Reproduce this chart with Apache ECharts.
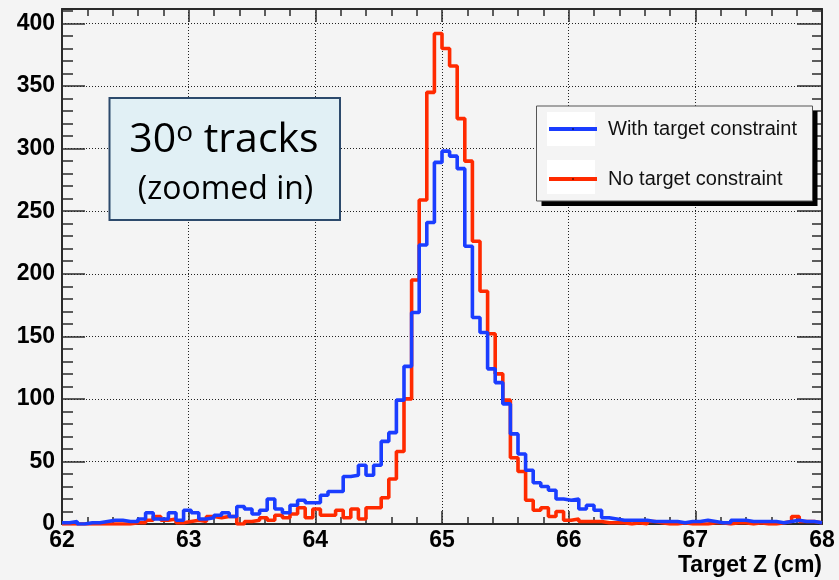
<!DOCTYPE html>
<html><head><meta charset="utf-8">
<script src="https://cdn.jsdelivr.net/npm/echarts@6/dist/echarts.min.js"></script>
<style>html,body{margin:0;padding:0;background:#f4f4f4}#c{width:839px;height:580px}</style>
</head><body><div id="c"></div>
<script>
// Histogram definition: 100 bins from 62 to 68 cm
const X_MIN = 62;
const X_MAX = 68;
const N_BINS = 100;
const Y_MIN = 0;
const Y_MAX = 411.6;
const X_TICK_STEP = 1;
const Y_TICK_STEP = 50;
const X_TITLE = 'Target Z (cm)';
const SERIES_NAMES = ['With target constraint', 'No target constraint'];
const BOX_TITLE = ['30', 'o', ' tracks'];
const BOX_SUBTITLE = '(zoomed in)';

// Bin contents, "With target constraint" (blue)
const WITH_TARGET = [
  1,2,0,1,1, 2,3,3,2,2,
  4,9,4,4,9, 3,11,9,4,5,
  7,9,6,14,12, 8,11,20,12,9,
  15,19,17,17,23, 26,26,38,39,47,
  39,47,66,73,99, 126,169,223,241,289,
  298,294,284,222,165, 153,124,113,96,72,
  56,43,33,30,27, 20,19,20,12,15,
  11,5,4,3,3, 3,3,2,2,2,
  2,1,2,2,3, 2,1,1,3,3,
  2,2,2,2,1, 2,3,2,2,1
];
// Bin contents, "No target constraint" (red)
const NO_TARGET = [
  0,0,0,0,0, 0,0,0,0,1,
  1,3,6,3,4, 1,2,3,2,6,
  5,6,6,0,2, 3,5,3,7,5,
  8,13,5,12,7, 7,11,5,12,4,
  13,13,21,36,58, 100,195,259,345,392,
  380,366,324,290,226, 186,152,120,99,53,
  42,19,11,13,6, 10,3,4,2,2,
  2,1,1,1,0, 1,0,2,1,0,
  0,1,0,0,0, 1,1,0,1,1,
  0,1,0,0,1, 2,6,2,2,1
];

const BIN_WIDTH = (X_MAX - X_MIN) / N_BINS;
function histData(vals) {
  const d = vals.map((v, i) => [X_MIN + i * BIN_WIDTH, v]);
  d.push([X_MAX, vals[vals.length - 1]]);
  return d;
}

const FRAME = '#2a2a2a';
const BLUE = '#1a3dff';
const RED = '#ff2a00';
const GRIDC = '#222';
const LABEL_FONT = { fontFamily: 'Liberation Sans', fontWeight: 'bold', fontSize: 23, color: '#000' };

function xAx(pos, labels) {
  return {
    type: 'value', position: pos, min: X_MIN, max: X_MAX, interval: X_TICK_STEP,
    axisLine: { show: true, onZero: false, lineStyle: { color: FRAME, width: 2 } },
    axisTick: { show: true, inside: true, length: 13, lineStyle: { color: FRAME, width: 1.5 } },
    minorTick: { show: true, splitNumber: 5, length: 7, lineStyle: { color: FRAME, width: 1.5 } },
    axisLabel: labels ? Object.assign({ show: true, margin: 5 }, LABEL_FONT) : { show: false },
    splitLine: labels ? { show: true, lineStyle: { type: [1, 2], color: GRIDC, width: 1 } } : { show: false },
    name: labels ? X_TITLE : '',
    nameLocation: 'end', nameGap: 0,
    nameTextStyle: Object.assign({ align: 'right', verticalAlign: 'top', padding: [30, 0, 0, 0] }, LABEL_FONT)
  };
}
function yAx(pos, interval, tickLen, main, line) {
  return {
    type: 'value', position: pos, min: Y_MIN, max: Y_MAX, interval: interval,
    axisLine: { show: line, onZero: false, lineStyle: { color: FRAME, width: 2 } },
    axisTick: { show: true, inside: true, length: tickLen, lineStyle: { color: FRAME, width: 1.5 } },
    axisLabel: main ? Object.assign({ show: true, margin: 7, showMaxLabel: false,
      formatter: v => (v % Y_TICK_STEP === 0 ? String(v) : '') }, LABEL_FONT) : { show: false },
    splitLine: main ? { show: true, lineStyle: { type: [1, 2], color: GRIDC, width: 1 } } : { show: false }
  };
}

const chart = echarts.init(document.getElementById('c'), null, { renderer: 'canvas' });
chart.setOption({
  backgroundColor: '#f4f4f4',
  animation: false,
  grid: { left: 62, right: 17, top: 9, bottom: 56, containLabel: false, outerBoundsMode: 'none' },
  xAxis: [xAx('bottom', true), xAx('top', false)],
  yAxis: [
    yAx('left', Y_TICK_STEP, 23, true, true),
    yAx('left', 10, 11, false, false),
    yAx('right', Y_TICK_STEP, 25, false, true),
    yAx('right', 10, 10, false, false)
  ],
  legend: {
    orient: 'vertical', left: 547, top: 119, padding: 0,
    itemWidth: 48, itemHeight: 2, itemGap: 30,
    selectedMode: false,
    data: SERIES_NAMES,
    itemStyle: { color: '#000', borderWidth: 0 },
    lineStyle: { width: 4 },
    textStyle: { fontFamily: 'Liberation Sans', fontSize: 20, color: '#111', padding: [0, 0, 0, 6] }
  },
  series: [
    { name: SERIES_NAMES[1], type: 'line', step: 'end', data: histData(NO_TARGET),
      symbol: 'none', showSymbol: false, lineStyle: { color: RED, width: 3.6 }, itemStyle: { color: RED } },
    { name: SERIES_NAMES[0], type: 'line', step: 'end', data: histData(WITH_TARGET),
      symbol: 'none', showSymbol: false, lineStyle: { color: BLUE, width: 3.6 }, itemStyle: { color: BLUE } }
  ],
  graphic: { elements: [
    { type: 'rect', z: 3, shape: { x: 541.5, y: 111, width: 276, height: 95 }, style: { fill: '#000' } },
    { type: 'rect', z: 3, shape: { x: 536.5, y: 106, width: 276, height: 95 }, style: { fill: '#f4f4f4', stroke: '#555', lineWidth: 1 } },
    { type: 'rect', z: 3, shape: { x: 547, y: 112, width: 48, height: 34 }, style: { fill: '#ffffff' } },
    { type: 'rect', z: 3, shape: { x: 547, y: 160, width: 48, height: 34 }, style: { fill: '#ffffff' } },
    { type: 'rect', z: 3, shape: { x: 109.5, y: 98, width: 230.5, height: 122 }, style: { fill: '#e1f0f5', stroke: '#2d4a6c', lineWidth: 2 } },
    { type: 'text', z: 4, x: 224, y: 140, style: {
        text: BOX_TITLE[0] + '{sup|' + BOX_TITLE[1] + '}' + BOX_TITLE[2],
        fontFamily: 'Open Sans', fontSize: 41, fill: '#000', align: 'center', verticalAlign: 'middle',
        rich: { sup: { fontFamily: 'Open Sans', fontSize: 28, lineHeight: 20, verticalAlign: 'top', fill: '#000' } } } },
    { type: 'text', z: 4, x: 225.5, y: 190, style: {
        text: BOX_SUBTITLE, fontFamily: 'Open Sans', fontSize: 32, fill: '#000', align: 'center', verticalAlign: 'middle' } }
  ] }
});
</script></body></html>
